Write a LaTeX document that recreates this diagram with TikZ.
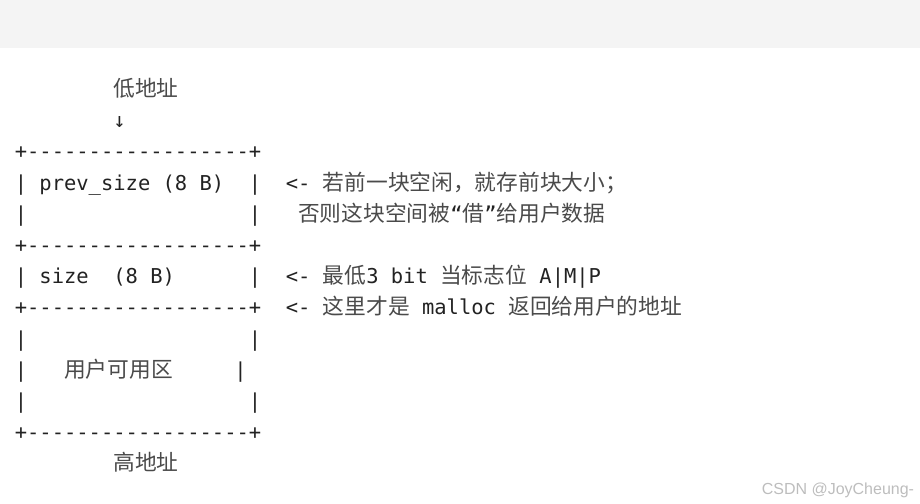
\documentclass[tikz,border=0pt]{standalone}
\usepackage{fontspec}
\newfontfamily\monof{DejaVu Sans Mono}
\newfontfamily\cjkf{Noto Sans CJK SC}
\newfontfamily\wmf{Liberation Sans}
\definecolor{band}{HTML}{F4F4F4}
\definecolor{ink}{HTML}{222222}
\definecolor{cjkink}{HTML}{4A4A4A}
\definecolor{wmark}{HTML}{BDBDBD}
\newlength\cw
\setlength\cw{9.2407pt}
\newcommand\hs[1]{\hspace*{#1\cw}}
\newcommand\cj[1]{{\cjkf\fontsize{16.3pt}{16.3pt}\selectfont\color{cjkink}#1}}
\tikzset{
  txt/.style={anchor=base west, inner sep=0pt, outer sep=0pt, text=ink,
    font=\monof\fontsize{15.35pt}{15.35pt}\selectfont},
  wmtxt/.style={anchor=base west, inner sep=0pt, text=wmark,
    font=\wmf\fontsize{12pt}{12pt}\selectfont}
}
\begin{document}
\begin{tikzpicture}[x=0.75pt,y=-0.75pt]
\useasboundingbox (0,0) rectangle (920,503);
\fill[band] (0,0) rectangle (920,48.5);
% header
\node[txt] (lo)    at (14.8,96.4)  {\hs{8}\cj{低地址}};
\node[txt] (arrow) at (14.8,127.6) {\hs{8}↓};
% box
\node[txt] (r0) at (14.8,158.8) {+------------------+};
\node[txt] (r1) at (14.8,190.0) {|\hs{1}prev\_size\hs{1}(8\hs{1}B)\hs{2}|};
\node[txt] (r2) at (14.8,221.2) {|\hs{18}|};
\node[txt] (r3) at (14.8,252.4) {+------------------+};
\node[txt] (r4) at (14.8,283.6) {|\hs{1}size\hs{2}(8\hs{1}B)\hs{6}|};
\node[txt] (r5) at (14.8,314.8) {+------------------+};
\node[txt] (r6) at (14.8,346.0) {|\hs{18}|};
\node[txt] (r7) at (14.8,377.1) {|\hs{3}\cj{用户可用区}\hs{5}|};
\node[txt] (r8) at (14.8,408.3) {|\hs{18}|};
\node[txt] (r9) at (14.8,439.5) {+------------------+};
\node[txt] (hi) at (14.8,470.7) {\hs{8}\cj{高地址}};
% annotations
\node[txt] (a1) at (285.84,190.0) {<-\hs{1}\cj{若前一块空闲，就存前块大小；}};
\node[txt] (a2) at (298.16,221.2) {\cj{否则这块空间被}“\cj{借}”\cj{给用户数据}};
\node[txt] (a4) at (285.84,283.6) {<-\hs{1}\cj{最低}3\hs{1}bit\hs{1}\cj{当标志位}\hs{1}A|M|P};
\node[txt] (a5) at (285.84,314.8) {<-\hs{1}\cj{这里才是}\hs{1}malloc\hs{1}\cj{返回给用户的地址}};
% watermark
\node[wmtxt] (wm) at (761.5,494) {CSDN @JoyCheung-};
\end{tikzpicture}
\end{document}
